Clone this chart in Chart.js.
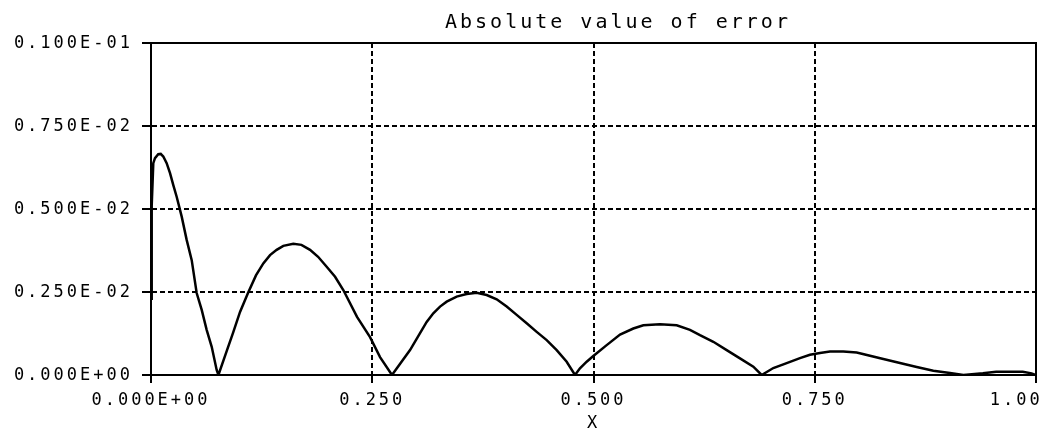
<!DOCTYPE html>
<html>
<head>
<meta charset="utf-8">
<script src="https://cdn.jsdelivr.net/npm/chart.js@4/dist/chart.umd.min.js"></script>
<style>
  html, body { margin: 0; padding: 0; background: #fff; }
  canvas { display: block; }
</style>
</head>
<body>
<canvas id="c" width="1046" height="433"></canvas>
<script>
// Plot text
const titleText = 'Absolute value of error';
const xAxisTitle = 'X';

// Axis ticks and their printed labels
const xTickValues = [0, 0.25, 0.5, 0.75, 1];
const xTickLabels = ['0.000E+00', '0.250', '0.500', '0.750', '1.00   '];
const yTickValues = [0, 0.0025, 0.005, 0.0075, 0.01];
const yTickLabels = ['0.000E+00', '0.250E-02', '0.500E-02', '0.750E-02', '0.100E-01'];

// |error| sampled along x
const errX = [
  0, 0.0008, 0.0026, 0.0045, 0.0082, 0.011, 0.0139, 0.0177, 0.0215, 0.0252,
  0.029, 0.0347, 0.0403, 0.046, 0.0516, 0.0573, 0.0629, 0.0686, 0.0742, 0.0762,
  0.0859, 0.0927, 0.1006, 0.1096, 0.1186, 0.1269, 0.1345, 0.142, 0.1495, 0.1608,
  0.170, 0.1797, 0.1888, 0.1985, 0.208, 0.2173, 0.2328, 0.2475, 0.2588, 0.2723,
  0.2927, 0.304, 0.3115, 0.319, 0.3266, 0.3341, 0.3454, 0.3567, 0.368, 0.3793,
  0.3906, 0.4019, 0.4132, 0.4245, 0.4358, 0.4471, 0.4584, 0.4697, 0.4791,
  0.4847, 0.4923, 0.4998, 0.5149, 0.53, 0.545, 0.5563, 0.5751, 0.594, 0.609,
  0.6203, 0.6354, 0.6505, 0.6655, 0.6806, 0.690,
  0.7032, 0.7183, 0.7333, 0.7446, 0.7559, 0.7672, 0.7822, 0.7974, 0.8124, 0.8275,
  0.8463, 0.8652, 0.884, 0.9028, 0.918,
  0.94, 0.955, 0.97, 0.985, 0.995, 1.0
];
const errY = [
  0.0023, 0.0051, 0.00638, 0.00653, 0.00665, 0.00666, 0.00658, 0.00638, 0.00608, 0.00572,
  0.00537, 0.00477, 0.00407, 0.00346, 0.00247, 0.00196, 0.00136, 0.00085, 0.00015, 0,
  0.00075, 0.00127, 0.0019, 0.00247, 0.003, 0.00336, 0.00361, 0.00377, 0.00389, 0.00395,
  0.00392, 0.00377, 0.00356, 0.00326, 0.00296, 0.00256, 0.00175, 0.00114, 0.00054, 0,
  0.00075, 0.00126, 0.0016, 0.00186, 0.00206, 0.00221, 0.00236, 0.00244, 0.00248, 0.00241,
  0.00228, 0.00206, 0.00181, 0.00156, 0.0013, 0.00105, 0.00075, 0.0004, 0,
  0.0002, 0.0004, 0.00057, 0.0009, 0.00122, 0.0014, 0.0015, 0.00153, 0.0015, 0.00136,
  0.0012, 0.001, 0.00075, 0.0005, 0.00025, 0,
  0.00021, 0.00036, 0.00051, 0.00061, 0.00066, 0.00071, 0.00071, 0.00068, 0.00058, 0.00048,
  0.00036, 0.00024, 0.00013, 0.00006, 0,
  0.00005, 0.0001, 0.0001, 0.0001, 0.00005, 0
];

const INK = '#000';
const MONO = 'DejaVu Sans Mono';
const SPACING = '3px';

// Wide plotter-style lettering, a solid frame and the heading
const plotterFrame = {
  id: 'plotterFrame',
  beforeDraw(chart) {
    chart.ctx.letterSpacing = SPACING;
  },
  afterDraw(chart) {
    const { ctx, chartArea: a } = chart;
    ctx.save();
    ctx.setLineDash([]);
    ctx.strokeStyle = INK;
    ctx.lineWidth = 2;
    ctx.strokeRect(a.left, a.top, a.right - a.left, a.bottom - a.top);
    ctx.font = '20px "' + MONO + '"';
    ctx.letterSpacing = SPACING;
    ctx.fillStyle = INK;
    ctx.textAlign = 'left';
    ctx.textBaseline = 'alphabetic';
    ctx.fillText(titleText, 445, 28);
    ctx.restore();
  }
};

const tickFont = { family: MONO, size: 17 };

new Chart(document.getElementById('c'), {
  type: 'line',
  data: {
    datasets: [{
      data: errX.map((x, i) => ({ x, y: errY[i] })),
      borderColor: INK,
      borderWidth: 2.5,
      pointRadius: 0,
      tension: 0,
      fill: false
    }]
  },
  options: {
    responsive: false,
    animation: false,
    devicePixelRatio: 1,
    layout: { padding: { left: 0, top: 43, right: 10, bottom: 0 } },
    plugins: { legend: { display: false }, tooltip: { enabled: false } },
    scales: {
      x: {
        type: 'linear', min: 0, max: 1,
        afterBuildTicks: s => { s.ticks = xTickValues.map(v => ({ value: v })); },
        afterFit: s => { s.height = 58; s.paddingLeft = 0; s.paddingRight = 0; },
        ticks: {
          autoSkip: false, maxRotation: 0, minRotation: 0,
          color: INK, font: tickFont, padding: 7,
          callback: (v, i) => xTickLabels[i]
        },
        grid: { color: INK, lineWidth: 2, tickLength: 8, tickColor: INK, tickWidth: 2 },
        border: { display: true, color: INK, width: 2, dash: [5, 3] },
        title: {
          display: true, text: xAxisTitle, color: INK,
          font: tickFont, padding: { top: 0, bottom: -1 }
        }
      },
      y: {
        type: 'linear', min: 0, max: 0.01,
        afterBuildTicks: s => { s.ticks = yTickValues.map(v => ({ value: v })); },
        afterFit: s => { s.width = 151; s.paddingTop = 0; s.paddingBottom = 0; },
        ticks: {
          color: INK, font: tickFont, padding: 9, labelOffset: 1,
          callback: (v, i) => yTickLabels[i]
        },
        grid: { color: INK, lineWidth: 2, tickLength: 9, tickColor: INK, tickWidth: 2 },
        border: { display: true, color: INK, width: 2, dash: [5, 3] }
      }
    }
  },
  plugins: [plotterFrame]
});
</script>
</body>
</html>
